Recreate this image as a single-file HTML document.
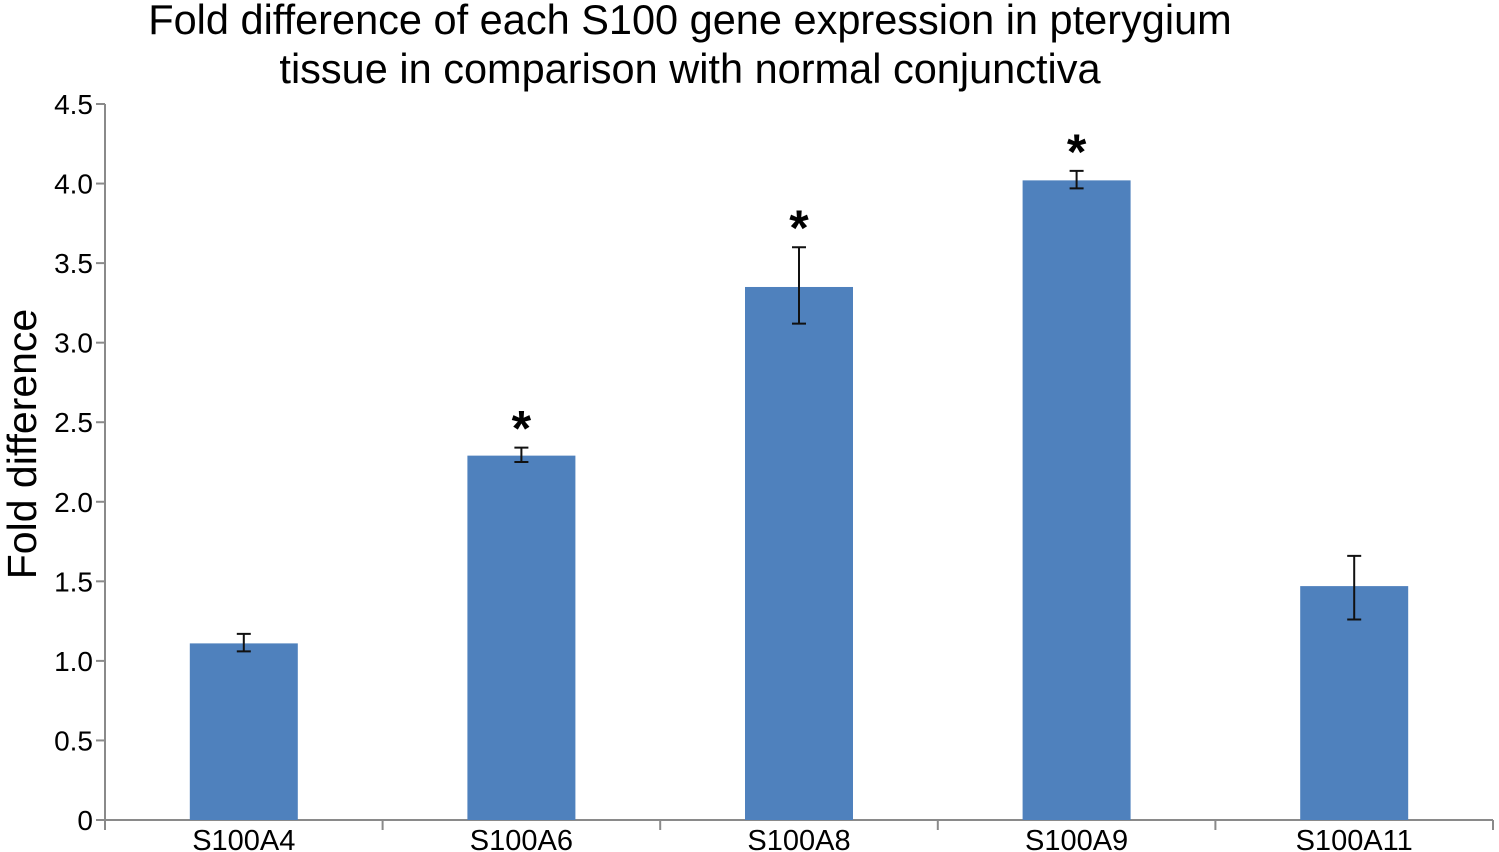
<!DOCTYPE html>
<html><head><meta charset="utf-8"><style>
html,body{margin:0;padding:0;background:#fff;}
svg{display:block;font-family:"Liberation Sans",Arial,sans-serif;}
</style></head><body>
<svg id="chart" width="1499" height="852" viewBox="0 0 1499 852" xmlns="http://www.w3.org/2000/svg">
<text x="690" y="34" font-size="41.5" text-anchor="middle">Fold difference of each S100 gene expression in pterygium</text>
<text x="690" y="83" font-size="41.5" text-anchor="middle">tissue in comparison with normal conjunctiva</text>
<text transform="translate(36,444) rotate(-90)" font-size="41" text-anchor="middle">Fold difference</text>
<g id="plot"></g>
</svg>
<script>
const categories = ["S100A4","S100A6","S100A8","S100A9","S100A11"];
const values = [1.11, 2.29, 3.35, 4.02, 1.47];
const errHigh = [1.17, 2.34, 3.60, 4.08, 1.66];
const errLow = [1.06, 2.25, 3.12, 3.97, 1.26];
const significant = [false, true, true, true, false];
const yTicks = [0,0.5,1,1.5,2,2.5,3,3.5,4,4.5];
const yTickLabels = ["0","0.5","1.0","1.5","2.0","2.5","3.0","3.5","4.0","4.5"];

const NS="http://www.w3.org/2000/svg";
const g=document.getElementById('plot');
const x0=105,x1=1493,y0=820,yMaxPx=104,yMax=4.5;
const yS=v=>y0-(v/yMax)*(y0-yMaxPx);
const band=(x1-x0)/categories.length;
const xC=i=>x0+band*(i+0.5);
function mk(t,a){const e=document.createElementNS(NS,t);for(const k in a)e.setAttribute(k,a[k]);g.appendChild(e);return e;}
let e=mk('line',{x1:x0,y1:yMaxPx,x2:x0,y2:y0,stroke:'#8a8a8a','stroke-width':2});


yTicks.forEach((v,i)=>{
 let t=mk('line',{x1:x0-9,y1:yS(v),x2:x0,y2:yS(v),stroke:'#8a8a8a','stroke-width':2});
 
 
 let l=mk('text',{x:x0-12,y:yS(v)+10,'font-size':28,'text-anchor':'end'});
 l.textContent=yTickLabels[i];
 
 
});
e=mk('line',{x1:x0,y1:y0,x2:x1,y2:y0,stroke:'#8a8a8a','stroke-width':2});


for(let i=0;i<=categories.length;i++){
 let t=mk('line',{x1:x0+band*i,y1:y0,x2:x0+band*i,y2:y0+10,stroke:'#8a8a8a','stroke-width':2});
 
 
}
const bw=108;
categories.forEach((c,i)=>{
 const cx=xC(i);
 let b=mk('rect',{x:cx-bw/2,y:yS(values[i]),width:bw,height:y0-yS(values[i]),fill:'#4f81bd'});
 
 
 const hy=yS(errHigh[i]),ly=yS(errLow[i]);
 let eb=mk('path',{d:`M${cx},${hy}V${ly}M${cx-7},${hy}H${cx+7}M${cx-7},${ly}H${cx+7}`,stroke:'#111','stroke-width':2,fill:'none'});
 
 
 let l=mk('text',{x:cx,y:y0+30,'font-size':29,'text-anchor':'middle'});
 l.textContent=c;
 
 
 if(significant[i]){
  let s=mk('text',{x:cx,y:hy-2,'font-size':50,'font-weight':'bold','text-anchor':'middle'});
  s.textContent='*';
  
  
 }
});
</script>
</body></html>
